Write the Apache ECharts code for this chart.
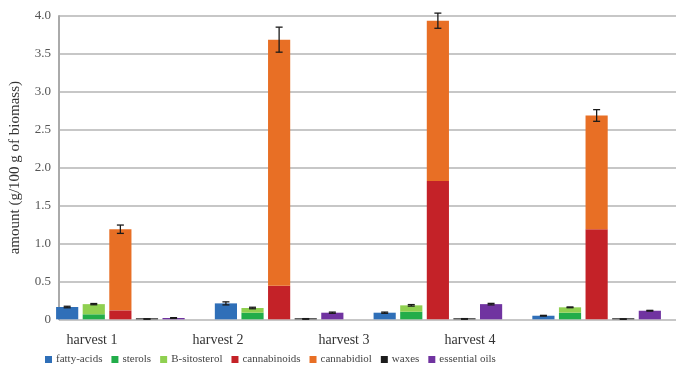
<!DOCTYPE html>
<html>
<head>
<meta charset="utf-8">
<script src="https://cdn.jsdelivr.net/npm/echarts@6/dist/echarts.min.js"></script>
<style>html,body{margin:0;padding:0;background:#fff;}#c{width:676px;height:376px;}</style>
</head>
<body>
<div id="c"></div>
<script>
const categories = ['harvest 1', 'harvest 2', 'harvest 3', 'harvest 4'];
const fattyAcids = [0.162, 0.21, 0.087, 0.047];
const fattyErr = [0.01, 0.02, 0.008, 0.005];
const sterols = [0.066, 0.087, 0.10, 0.087];
const bSitosterol = [0.134, 0.062, 0.084, 0.071];
const sterolErr = [0.008, 0.01, 0.01, 0.005];
const cannabinoids = [0.118, 0.442, 1.824, 1.188];
const cannabidiol = [1.07, 3.246, 2.114, 1.50];
const cbdErr = [0.055, 0.165, 0.10, 0.077];
const waxes = [0.004, 0.005, 0.005, 0.003];
const waxErr = [0.002, 0.004, 0.004, 0.002];
const essentialOils = [0.017, 0.087, 0.20, 0.113];
const oilErr = [0.005, 0.008, 0.01, 0.005];
const yMin = 0, yMax = 4, yStep = 0.5;

const FONT = 'Liberation Serif';
const CAT_GAP = 0.19, BAR_GAP = 0.2, SLOTS = 5;

function errData(tops, errs, slot) {
  return tops.map((t, i) => [i, t, errs[i], slot]);
}
const sum = (a, b) => a.map((v, i) => v + b[i]);

const errorItems = [].concat(
  errData(fattyAcids, fattyErr, 0),
  errData(sum(sterols, bSitosterol), sterolErr, 1),
  errData(sum(cannabinoids, cannabidiol), cbdErr, 2),
  errData(waxes, waxErr, 3),
  errData(essentialOils, oilErr, 4)
);

function bar(name, data, color, stack, extra) {
  return Object.assign({
    name: name, type: 'bar', data: data, stack: stack,
    xAxisIndex: 0, yAxisIndex: 0,
    barCategoryGap: (CAT_GAP * 100) + '%', barGap: (BAR_GAP * 100) + '%',
    itemStyle: { color: color },
    emphasis: { disabled: true }
  }, extra || {});
}

const chart = echarts.init(document.getElementById('c'), null, { renderer: 'canvas' });
chart.setOption({
  animation: false,
  backgroundColor: '#ffffff',
  textStyle: { fontFamily: FONT },
  grid: [
    { left: 41, width: 647, top: 16, height: 303.3, containLabel: false },
    { left: 53, right: 0, top: 16, height: 303.3, containLabel: false },
    { left: 29, width: 504, top: 16, height: 303.3, containLabel: false }
  ],
  xAxis: [
    { type: 'category', gridIndex: 0, data: categories, show: false },
    { type: 'value', gridIndex: 1, show: false, min: 0, max: 1 },
    { type: 'category', gridIndex: 2, data: categories,
      axisLine: { show: false }, axisTick: { show: false }, splitLine: { show: false },
      axisLabel: { margin: 14, color: '#333', fontSize: 14, fontFamily: FONT } }
  ],
  yAxis: [
    { type: 'value', gridIndex: 0, min: yMin, max: yMax, show: false },
    { type: 'value', gridIndex: 1, min: yMin, max: yMax, interval: yStep,
      name: 'amount (g/100 g of biomass)', nameLocation: 'middle', nameGap: 36,
      nameTextStyle: { fontSize: 15, color: '#333', fontFamily: FONT },
      axisLine: { show: true, lineStyle: { color: '#aaaaaa', width: 2 } },
      axisTick: { show: false },
      splitLine: { show: true, lineStyle: { color: '#b5b5b5', width: 1.5 } },
      axisLabel: { margin: 8, color: '#555', fontSize: 13, fontFamily: FONT,
        formatter: v => v === 0 ? '0' : v.toFixed(1) } },
    { type: 'value', gridIndex: 2, min: yMin, max: yMax, show: false }
  ],
  legend: {
    left: 45, top: 354, padding: 0, itemWidth: 7, itemHeight: 7, itemGap: 9,
    icon: 'rect',
    textStyle: { fontSize: 11, color: '#444', fontFamily: FONT, padding: [0, 0, 0, -1] },
    data: ['fatty-acids', 'sterols', 'B-sitosterol', 'cannabinoids', 'cannabidiol', 'waxes', 'essential oils']
  },
  series: [
    bar('fatty-acids', fattyAcids, '#2f6fb8', 'fa'),
    bar('sterols', sterols, '#22ad4a', 'st'),
    bar('B-sitosterol', bSitosterol, '#8fd050', 'st'),
    bar('cannabinoids', cannabinoids, '#c42228', 'cb'),
    bar('cannabidiol', cannabidiol, '#e86f25', 'cb'),
    bar('waxes', waxes, '#1c1c1c', 'wx', { barMinHeight: 1 }),
    bar('essential oils', essentialOils, '#7033a0', 'eo'),
    {
      type: 'custom', xAxisIndex: 0, yAxisIndex: 0, z: 10,
      silent: true,
      data: errorItems,
      renderItem: function (params, api) {
        const idx = api.value(0), top = api.value(1), err = api.value(2), slot = api.value(3);
        const c = api.coord([idx, top]);
        const band = api.size([1, 0])[0];
        const bw = band * (1 - CAT_GAP) / (SLOTS + (SLOTS - 1) * BAR_GAP);
        const x = c[0] + (slot - (SLOTS - 1) / 2) * bw * (1 + BAR_GAP);
        const hi = api.coord([idx, top + err])[1];
        const lo = api.coord([idx, top - err])[1];
        const hw = 3.5;
        const st = { stroke: '#1a1a1a', lineWidth: 1.3 };
        return {
          type: 'group',
          children: [
            { type: 'line', shape: { x1: x, y1: hi, x2: x, y2: lo }, style: st },
            { type: 'line', shape: { x1: x - hw, y1: hi, x2: x + hw, y2: hi }, style: st },
            { type: 'line', shape: { x1: x - hw, y1: lo, x2: x + hw, y2: lo }, style: st }
          ]
        };
      }
    }
  ]
});
</script>
</body>
</html>
